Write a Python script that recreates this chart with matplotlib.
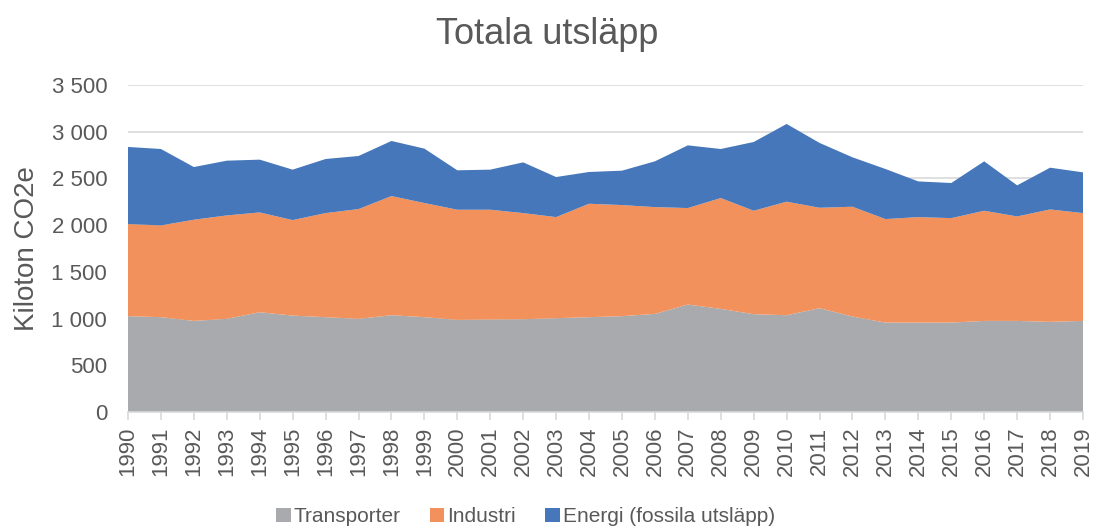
import matplotlib

matplotlib.use("Agg")
import matplotlib.pyplot as plt
from matplotlib.patches import Patch
from matplotlib.ticker import FuncFormatter, MultipleLocator

plt.rcParams["font.family"] = ["Liberation Sans", "DejaVu Sans"]

TEXT = "#595959"
GRID = "#d9d9d9"

years = list(range(1990, 2020))
# kiloton CO2e
transporter = [1026, 1015, 975, 997, 1068, 1032, 1015, 997, 1036, 1015,
               986, 990, 993, 1004, 1015, 1026, 1050, 1150, 1104, 1047,
               1036, 1111, 1022, 957, 957, 957, 975, 975, 965, 975]
industri = [986, 982, 1083, 1107, 1068, 1022, 1114, 1175, 1275, 1222,
            1179, 1175, 1136, 1082, 1214, 1189, 1143, 1033, 1186, 1107,
            1215, 1075, 1175, 1108, 1129, 1118, 1179, 1118, 1203, 1154]
energi = [825, 818, 564, 586, 565, 540, 579, 568, 590, 582,
          422, 429, 543, 429, 340, 368, 490, 671, 525, 736,
          832, 694, 529, 536, 382, 376, 529, 333, 447, 436]

labels = ["Transporter", "Industri", "Energi (fossila utsläpp)"]
colors = ["#a9aaae", "#f2915b", "#4677ba"]

fig = plt.figure(figsize=(10.95, 5.29), dpi=100)
ax = fig.add_axes([128 / 1095, 1 - 412 / 529, (1083 - 128) / 1095, (412 - 85) / 529])

ax.stackplot(years, transporter, industri, energi, colors=colors, linewidth=0, zorder=2)

ax.set_xlim(years[0], years[-1])
ax.set_ylim(0, 3500)
ax.yaxis.set_major_locator(MultipleLocator(500))
ax.yaxis.set_major_formatter(FuncFormatter(lambda v, _: f"{int(v):,}".replace(",", " ")))
ax.set_xticks(years)
ax.set_xticklabels([str(y) for y in years], rotation=90)

ax.grid(axis="y", color=GRID, linewidth=1.2, zorder=0)
ax.set_axisbelow(True)
for side in ["top", "right", "left"]:
    ax.spines[side].set_visible(False)
ax.spines["bottom"].set_color(GRID)
ax.spines["bottom"].set_linewidth(1.2)
ax.spines["bottom"].set_zorder(3)

ax.tick_params(axis="y", length=0, pad=15, labelsize=16, labelcolor=TEXT)
ax.tick_params(axis="x", length=5.5, width=1.2, color=GRID, pad=5, labelsize=16, labelcolor=TEXT)

ax.set_ylabel("Kiloton CO2e", fontsize=20, color=TEXT)
ax.yaxis.set_label_coords(-0.092, 0.5)

fig.text(0.5, 0.935, "Totala utsläpp", ha="center", va="center", fontsize=26, color=TEXT)

handles = [Patch(facecolor=c, edgecolor="none") for c in colors]
fig.legend(handles, labels, loc="lower center", bbox_to_anchor=(0.48, -0.03), ncol=3,
           frameon=False, fontsize=15, labelcolor=TEXT, handlelength=0.7, handleheight=0.7,
           handletextpad=0.15, columnspacing=1.4)

fig.savefig("out.png", dpi=100)
